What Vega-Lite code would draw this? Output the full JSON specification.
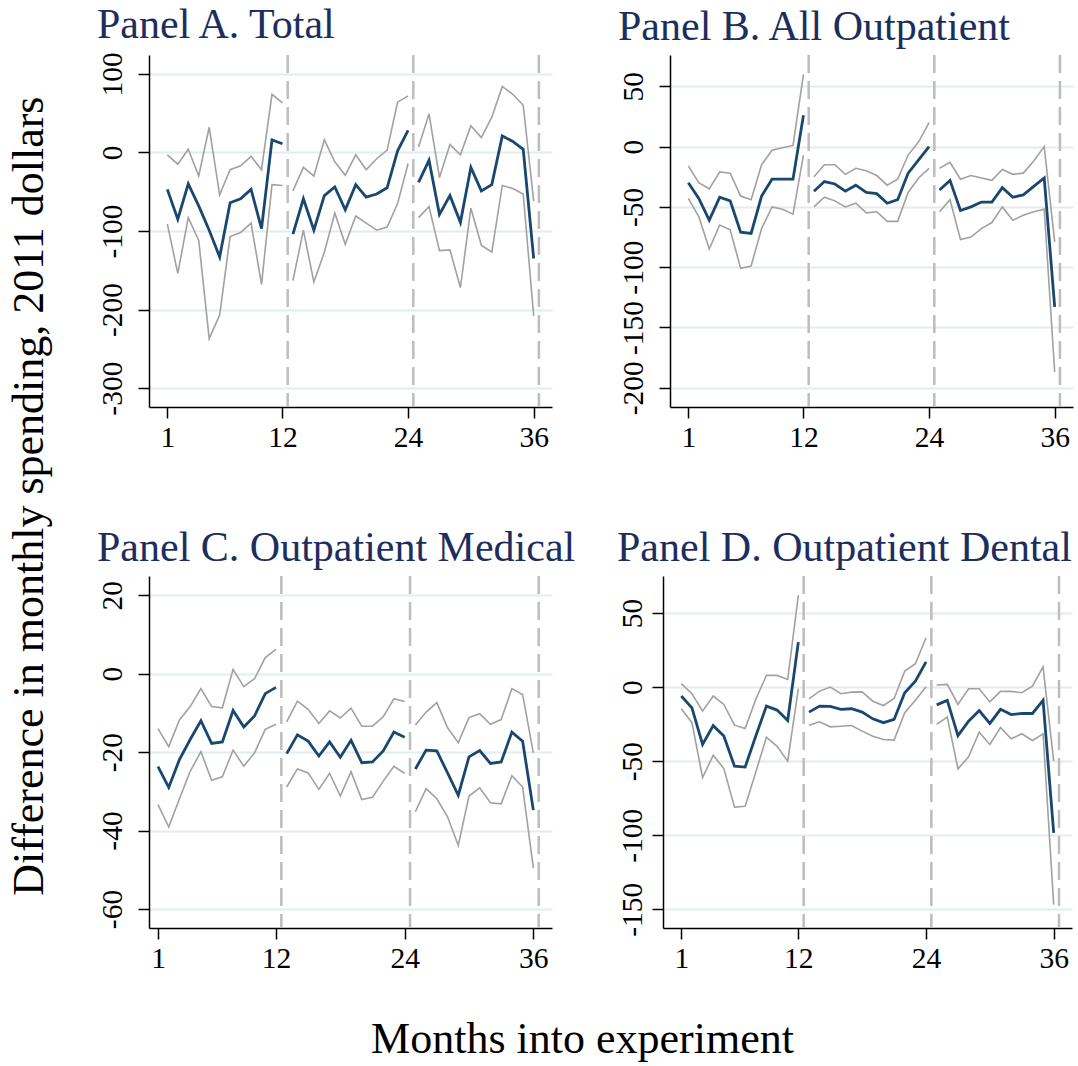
{
  "$schema": "https://vega.github.io/schema/vega-lite/v6.json",
  "background": "white",
  "padding": {"left": 7, "top": 3, "right": 2, "bottom": 2},
  "config": {
    "view": {"stroke": null},
    "font": "Liberation Serif",
    "axis": {
      "labelFont": "Liberation Serif", "labelFontSize": 29.5, "labelColor": "black",
      "domainColor": "black", "domainWidth": 1.5, "tickColor": "black", "tickWidth": 1.5,
      "tickSize": 11, "gridColor": "#e3ecee", "gridWidth": 2, "title": null
    },
    "axisX": {"labelPadding": 5, "grid": false},
    "axisY": {"labelAngle": -90, "labelAlign": "center", "labelBaseline": "alphabetic", "labelPadding": 17, "grid": true}
  },
  "datasets": {
    "v": [{"x": 12.5}, {"x": 24.5}, {"x": 36.5}],
    "d": [
      {"p":"A","m":1,"s":1,"e":-47,"h":-3,"l":-91},
      {"p":"A","m":2,"s":1,"e":-85,"h":-15,"l":-154},
      {"p":"A","m":3,"s":1,"e":-40,"h":4,"l":-83},
      {"p":"A","m":4,"s":1,"e":-68,"h":-30,"l":-112},
      {"p":"A","m":5,"s":1,"e":-99,"h":32,"l":-237},
      {"p":"A","m":6,"s":1,"e":-133,"h":-54,"l":-207},
      {"p":"A","m":7,"s":1,"e":-64,"h":-22,"l":-107},
      {"p":"A","m":8,"s":1,"e":-59,"h":-17,"l":-102},
      {"p":"A","m":9,"s":1,"e":-47,"h":-5,"l":-90},
      {"p":"A","m":10,"s":1,"e":-97,"h":-22,"l":-168},
      {"p":"A","m":11,"s":1,"e":16,"h":74,"l":-41},
      {"p":"A","m":12,"s":1,"e":11,"h":63,"l":-42},
      {"p":"A","m":13,"s":2,"e":-104,"h":-49,"l":-163},
      {"p":"A","m":14,"s":2,"e":-59,"h":-19,"l":-99},
      {"p":"A","m":15,"s":2,"e":-99,"h":-30,"l":-165},
      {"p":"A","m":16,"s":2,"e":-55,"h":16,"l":-127},
      {"p":"A","m":17,"s":2,"e":-44,"h":-12,"l":-77},
      {"p":"A","m":18,"s":2,"e":-73,"h":-29,"l":-117},
      {"p":"A","m":19,"s":2,"e":-41,"h":-3,"l":-81},
      {"p":"A","m":20,"s":2,"e":-57,"h":-22,"l":-90},
      {"p":"A","m":21,"s":2,"e":-53,"h":-8,"l":-99},
      {"p":"A","m":22,"s":2,"e":-45,"h":3,"l":-95},
      {"p":"A","m":23,"s":2,"e":2,"h":64,"l":-65},
      {"p":"A","m":24,"s":2,"e":28,"h":72,"l":-14},
      {"p":"A","m":25,"s":3,"e":-38,"h":7,"l":-83},
      {"p":"A","m":26,"s":3,"e":-10,"h":49,"l":-69},
      {"p":"A","m":27,"s":3,"e":-79,"h":-32,"l":-125},
      {"p":"A","m":28,"s":3,"e":-55,"h":10,"l":-124},
      {"p":"A","m":29,"s":3,"e":-89,"h":-3,"l":-172},
      {"p":"A","m":30,"s":3,"e":-19,"h":34,"l":-71},
      {"p":"A","m":31,"s":3,"e":-49,"h":19,"l":-118},
      {"p":"A","m":32,"s":3,"e":-41,"h":45,"l":-127},
      {"p":"A","m":33,"s":3,"e":21,"h":84,"l":-42},
      {"p":"A","m":34,"s":3,"e":14,"h":74,"l":-46},
      {"p":"A","m":35,"s":3,"e":4,"h":60,"l":-53},
      {"p":"A","m":36,"s":3,"e":-135,"h":-62,"l":-208},

      {"p":"B","m":1,"s":1,"e":-30,"h":-16,"l":-43},
      {"p":"B","m":2,"s":1,"e":-43,"h":-30,"l":-58},
      {"p":"B","m":3,"s":1,"e":-61,"h":-35,"l":-85},
      {"p":"B","m":4,"s":1,"e":-42,"h":-21,"l":-65},
      {"p":"B","m":5,"s":1,"e":-45,"h":-22,"l":-69},
      {"p":"B","m":6,"s":1,"e":-71,"h":-41,"l":-101},
      {"p":"B","m":7,"s":1,"e":-72,"h":-44,"l":-99},
      {"p":"B","m":8,"s":1,"e":-41,"h":-15,"l":-68},
      {"p":"B","m":9,"s":1,"e":-27,"h":-3,"l":-50},
      {"p":"B","m":10,"s":1,"e":-27,"h":-1,"l":-52},
      {"p":"B","m":11,"s":1,"e":-27,"h":1,"l":-56},
      {"p":"B","m":12,"s":1,"e":26,"h":60,"l":-7},
      {"p":"B","m":13,"s":2,"e":-37,"h":-25,"l":-50},
      {"p":"B","m":14,"s":2,"e":-29,"h":-15,"l":-42},
      {"p":"B","m":15,"s":2,"e":-31,"h":-15,"l":-45},
      {"p":"B","m":16,"s":2,"e":-37,"h":-23,"l":-50},
      {"p":"B","m":17,"s":2,"e":-32,"h":-18,"l":-47},
      {"p":"B","m":18,"s":2,"e":-38,"h":-20,"l":-55},
      {"p":"B","m":19,"s":2,"e":-39,"h":-24,"l":-54},
      {"p":"B","m":20,"s":2,"e":-47,"h":-32,"l":-62},
      {"p":"B","m":21,"s":2,"e":-44,"h":-27,"l":-62},
      {"p":"B","m":22,"s":2,"e":-22,"h":-7,"l":-38},
      {"p":"B","m":23,"s":2,"e":-11,"h":4,"l":-26},
      {"p":"B","m":24,"s":2,"e":0,"h":20,"l":-18},
      {"p":"B","m":25,"s":3,"e":-36,"h":-18,"l":-54},
      {"p":"B","m":26,"s":3,"e":-28,"h":-13,"l":-44},
      {"p":"B","m":27,"s":3,"e":-53,"h":-27,"l":-77},
      {"p":"B","m":28,"s":3,"e":-50,"h":-24,"l":-75},
      {"p":"B","m":29,"s":3,"e":-46,"h":-26,"l":-68},
      {"p":"B","m":30,"s":3,"e":-46,"h":-28,"l":-63},
      {"p":"B","m":31,"s":3,"e":-34,"h":-19,"l":-50},
      {"p":"B","m":32,"s":3,"e":-42,"h":-23,"l":-61},
      {"p":"B","m":33,"s":3,"e":-40,"h":-22,"l":-57},
      {"p":"B","m":34,"s":3,"e":-33,"h":-12,"l":-54},
      {"p":"B","m":35,"s":3,"e":-26,"h":0,"l":-52},
      {"p":"B","m":36,"s":3,"e":-133,"h":-79,"l":-187},

      {"p":"C","m":1,"s":1,"e":-23.7,"h":-14,"l":-33.4},
      {"p":"C","m":2,"s":1,"e":-29,"h":-18.6,"l":-39.1},
      {"p":"C","m":3,"s":1,"e":-21.9,"h":-11.8,"l":-31.9},
      {"p":"C","m":4,"s":1,"e":-16.8,"h":-8.4,"l":-24.9},
      {"p":"C","m":5,"s":1,"e":-12,"h":-3.8,"l":-19.9},
      {"p":"C","m":6,"s":1,"e":-17.8,"h":-8.4,"l":-27.2},
      {"p":"C","m":7,"s":1,"e":-17.4,"h":-8.7,"l":-26.3},
      {"p":"C","m":8,"s":1,"e":-9.4,"h":1.1,"l":-19.5},
      {"p":"C","m":9,"s":1,"e":-13.6,"h":-3.3,"l":-23.6},
      {"p":"C","m":10,"s":1,"e":-10.8,"h":-1.3,"l":-20.2},
      {"p":"C","m":11,"s":1,"e":-5.1,"h":4.1,"l":-14.2},
      {"p":"C","m":12,"s":1,"e":-3.5,"h":6.2,"l":-12.9},
      {"p":"C","m":13,"s":2,"e":-20.4,"h":-12.3,"l":-28.9},
      {"p":"C","m":14,"s":2,"e":-15.6,"h":-7,"l":-24.3},
      {"p":"C","m":15,"s":2,"e":-17.2,"h":-9.1,"l":-25.3},
      {"p":"C","m":16,"s":2,"e":-21,"h":-12.7,"l":-29.5},
      {"p":"C","m":17,"s":2,"e":-17.4,"h":-9.5,"l":-25.4},
      {"p":"C","m":18,"s":2,"e":-21.3,"h":-11.3,"l":-31.2},
      {"p":"C","m":19,"s":2,"e":-17,"h":-8.8,"l":-25},
      {"p":"C","m":20,"s":2,"e":-22.7,"h":-13.4,"l":-32.1},
      {"p":"C","m":21,"s":2,"e":-22.5,"h":-13.4,"l":-31.5},
      {"p":"C","m":22,"s":2,"e":-19.7,"h":-11,"l":-27.4},
      {"p":"C","m":23,"s":2,"e":-14.9,"h":-6.4,"l":-23.6},
      {"p":"C","m":24,"s":2,"e":-16.2,"h":-7.1,"l":-25.4},
      {"p":"C","m":25,"s":3,"e":-24.3,"h":-13.1,"l":-35.2},
      {"p":"C","m":26,"s":3,"e":-19.5,"h":-9.8,"l":-29.3},
      {"p":"C","m":27,"s":3,"e":-19.7,"h":-7.4,"l":-31.9},
      {"p":"C","m":28,"s":3,"e":-25.3,"h":-13.8,"l":-36.5},
      {"p":"C","m":29,"s":3,"e":-31,"h":-17.6,"l":-43.8},
      {"p":"C","m":30,"s":3,"e":-21.2,"h":-11.2,"l":-31.2},
      {"p":"C","m":31,"s":3,"e":-19.6,"h":-10.2,"l":-29.1},
      {"p":"C","m":32,"s":3,"e":-22.9,"h":-12.9,"l":-32.9},
      {"p":"C","m":33,"s":3,"e":-22.5,"h":-11.7,"l":-33.2},
      {"p":"C","m":34,"s":3,"e":-14.9,"h":-3.8,"l":-26},
      {"p":"C","m":35,"s":3,"e":-17.2,"h":-5.3,"l":-28.9},
      {"p":"C","m":36,"s":3,"e":-34.8,"h":-20.2,"l":-49.5},

      {"p":"D","m":1,"s":1,"e":-6,"h":2.3,"l":-14.6},
      {"p":"D","m":2,"s":1,"e":-14,"h":-4.5,"l":-24},
      {"p":"D","m":3,"s":1,"e":-38.7,"h":-16.2,"l":-61},
      {"p":"D","m":4,"s":1,"e":-26,"h":-6,"l":-46},
      {"p":"D","m":5,"s":1,"e":-33,"h":-11.7,"l":-55},
      {"p":"D","m":6,"s":1,"e":-53.4,"h":-25.7,"l":-81},
      {"p":"D","m":7,"s":1,"e":-54,"h":-28,"l":-80.4},
      {"p":"D","m":8,"s":1,"e":-33,"h":-8.3,"l":-57.4},
      {"p":"D","m":9,"s":1,"e":-12.8,"h":7.9,"l":-33.8},
      {"p":"D","m":10,"s":1,"e":-15.5,"h":7.9,"l":-40},
      {"p":"D","m":11,"s":1,"e":-22.5,"h":5.2,"l":-50},
      {"p":"D","m":12,"s":1,"e":30.4,"h":62,"l":-1.1},
      {"p":"D","m":13,"s":2,"e":-16.9,"h":-7.9,"l":-25.7},
      {"p":"D","m":14,"s":2,"e":-12.8,"h":-2.7,"l":-23.4},
      {"p":"D","m":15,"s":2,"e":-13,"h":0,"l":-26.8},
      {"p":"D","m":16,"s":2,"e":-15,"h":-4.5,"l":-26.4},
      {"p":"D","m":17,"s":2,"e":-14.6,"h":-3.4,"l":-25.9},
      {"p":"D","m":18,"s":2,"e":-16.9,"h":-3.2,"l":-29.7},
      {"p":"D","m":19,"s":2,"e":-21.4,"h":-9.5,"l":-33.1},
      {"p":"D","m":20,"s":2,"e":-24,"h":-12.4,"l":-35.4},
      {"p":"D","m":21,"s":2,"e":-21.8,"h":-7.7,"l":-35.8},
      {"p":"D","m":22,"s":2,"e":-3.8,"h":10.8,"l":-17.3},
      {"p":"D","m":23,"s":2,"e":4,"h":15.8,"l":-8.8},
      {"p":"D","m":24,"s":2,"e":17,"h":33.3,"l":0.2},
      {"p":"D","m":25,"s":3,"e":-12,"h":1.4,"l":-25.2},
      {"p":"D","m":26,"s":3,"e":-9,"h":1.8,"l":-20.3},
      {"p":"D","m":27,"s":3,"e":-32.7,"h":-11.7,"l":-55.2},
      {"p":"D","m":28,"s":3,"e":-23,"h":-1.1,"l":-47},
      {"p":"D","m":29,"s":3,"e":-15.8,"h":-1.1,"l":-30.4},
      {"p":"D","m":30,"s":3,"e":-24.5,"h":-10,"l":-38.7},
      {"p":"D","m":31,"s":3,"e":-15,"h":-2.9,"l":-27.3},
      {"p":"D","m":32,"s":3,"e":-18.5,"h":-2.9,"l":-34.9},
      {"p":"D","m":33,"s":3,"e":-17.8,"h":-3.8,"l":-31.5},
      {"p":"D","m":34,"s":3,"e":-17.8,"h":0.7,"l":-36},
      {"p":"D","m":35,"s":3,"e":-9,"h":13.7,"l":-31.5},
      {"p":"D","m":36,"s":3,"e":-98.4,"h":-50,"l":-146.8}
    ]
  },
  "title": {"text": "Months into experiment", "orient": "bottom", "anchor": "middle", "fontSize": 44, "font": "Liberation Serif", "fontWeight": "normal", "color": "black", "offset": 45, "dx": 42},
  "vconcat": [
    {
      "title": {"text": "Difference in monthly spending, 2011 dollars", "orient": "left", "anchor": "middle", "fontSize": 44, "font": "Liberation Serif", "fontWeight": "normal", "color": "black", "offset": 45, "dx": -8},
      "spacing": 74,
      "vconcat": [
        {
          "spacing": 66,
          "hconcat": [
            {
              "title": {"text": "Panel A. Total", "anchor": "start", "frame": "bounds", "fontSize": 42, "font": "Liberation Serif", "fontWeight": "normal", "color": "#1c2e5e", "offset": 5},
              "width": 403, "height": 352,
              "layer": [
                {"data": {"name": "v"}, "mark": {"type": "rule", "color": "#bdbdbd", "strokeWidth": 2.5, "strokeDash": [18, 8]},
                 "encoding": {"x": {"field": "x", "type": "quantitative", "scale": {"domain": [-0.75, 37.75], "nice": false, "zero": false}, "axis": {"values": [1, 12, 24, 36]}}}},
                {"data": {"name": "d"}, "transform": [{"filter": "datum.p == 'A'"}], "mark": {"type": "line", "color": "#a1a1a1", "strokeWidth": 1.6},
                 "encoding": {"x": {"field": "m", "type": "quantitative"}, "y": {"field": "h", "type": "quantitative", "scale": {"domain": [-324, 124], "nice": false, "zero": false}, "axis": {"values": [-300, -200, -100, 0, 100], "labelExpr": "replace(datum.label, '−', '-')"}}, "detail": {"field": "s"}}},
                {"data": {"name": "d"}, "transform": [{"filter": "datum.p == 'A'"}], "mark": {"type": "line", "color": "#a1a1a1", "strokeWidth": 1.6},
                 "encoding": {"x": {"field": "m", "type": "quantitative"}, "y": {"field": "l", "type": "quantitative"}, "detail": {"field": "s"}}},
                {"data": {"name": "d"}, "transform": [{"filter": "datum.p == 'A'"}], "mark": {"type": "line", "color": "#1a476f", "strokeWidth": 2.8},
                 "encoding": {"x": {"field": "m", "type": "quantitative"}, "y": {"field": "e", "type": "quantitative"}, "detail": {"field": "s"}}}
              ]
            },
            {
              "title": {"text": "Panel B. All Outpatient", "anchor": "start", "frame": "bounds", "fontSize": 42, "font": "Liberation Serif", "fontWeight": "normal", "color": "#1c2e5e", "offset": 5},
              "width": 403, "height": 352,
              "layer": [
                {"data": {"name": "v"}, "mark": {"type": "rule", "color": "#bdbdbd", "strokeWidth": 2.5, "strokeDash": [18, 8]},
                 "encoding": {"x": {"field": "x", "type": "quantitative", "scale": {"domain": [-0.75, 37.75], "nice": false, "zero": false}, "axis": {"values": [1, 12, 24, 36]}}}},
                {"data": {"name": "d"}, "transform": [{"filter": "datum.p == 'B'"}], "mark": {"type": "line", "color": "#a1a1a1", "strokeWidth": 1.6},
                 "encoding": {"x": {"field": "m", "type": "quantitative"}, "y": {"field": "h", "type": "quantitative", "scale": {"domain": [-216, 76], "nice": false, "zero": false}, "axis": {"values": [-200, -150, -100, -50, 0, 50], "labelExpr": "replace(datum.label, '−', '-')"}}, "detail": {"field": "s"}}},
                {"data": {"name": "d"}, "transform": [{"filter": "datum.p == 'B'"}], "mark": {"type": "line", "color": "#a1a1a1", "strokeWidth": 1.6},
                 "encoding": {"x": {"field": "m", "type": "quantitative"}, "y": {"field": "l", "type": "quantitative"}, "detail": {"field": "s"}}},
                {"data": {"name": "d"}, "transform": [{"filter": "datum.p == 'B'"}], "mark": {"type": "line", "color": "#1a476f", "strokeWidth": 2.8},
                 "encoding": {"x": {"field": "m", "type": "quantitative"}, "y": {"field": "e", "type": "quantitative"}, "detail": {"field": "s"}}}
              ]
            }
          ]
        },
        {
          "spacing": 41,
          "hconcat": [
            {
              "title": {"text": "Panel C. Outpatient Medical", "anchor": "start", "frame": "bounds", "fontSize": 42, "font": "Liberation Serif", "fontWeight": "normal", "color": "#1c2e5e", "offset": 5},
              "width": 403, "height": 352,
              "layer": [
                {"data": {"name": "v"}, "mark": {"type": "rule", "color": "#bdbdbd", "strokeWidth": 2.5, "strokeDash": [18, 8]},
                 "encoding": {"x": {"field": "x", "type": "quantitative", "scale": {"domain": [0.16, 37.74], "nice": false, "zero": false}, "axis": {"values": [1, 12, 24, 36]}}}},
                {"data": {"name": "d"}, "transform": [{"filter": "datum.p == 'C'"}], "mark": {"type": "line", "color": "#a1a1a1", "strokeWidth": 1.6},
                 "encoding": {"x": {"field": "m", "type": "quantitative"}, "y": {"field": "h", "type": "quantitative", "scale": {"domain": [-64.85, 24.9], "nice": false, "zero": false}, "axis": {"values": [-60, -40, -20, 0, 20], "labelExpr": "replace(datum.label, '−', '-')"}}, "detail": {"field": "s"}}},
                {"data": {"name": "d"}, "transform": [{"filter": "datum.p == 'C'"}], "mark": {"type": "line", "color": "#a1a1a1", "strokeWidth": 1.6},
                 "encoding": {"x": {"field": "m", "type": "quantitative"}, "y": {"field": "l", "type": "quantitative"}, "detail": {"field": "s"}}},
                {"data": {"name": "d"}, "transform": [{"filter": "datum.p == 'C'"}], "mark": {"type": "line", "color": "#1a476f", "strokeWidth": 2.8},
                 "encoding": {"x": {"field": "m", "type": "quantitative"}, "y": {"field": "e", "type": "quantitative"}, "detail": {"field": "s"}}}
              ]
            },
            {
              "title": {"text": "Panel D. Outpatient Dental", "anchor": "start", "frame": "bounds", "fontSize": 42, "font": "Liberation Serif", "fontWeight": "normal", "color": "#1c2e5e", "offset": 5},
              "width": 409, "height": 352,
              "layer": [
                {"data": {"name": "v"}, "mark": {"type": "rule", "color": "#bdbdbd", "strokeWidth": 2.5, "strokeDash": [18, 8]},
                 "encoding": {"x": {"field": "x", "type": "quantitative", "scale": {"domain": [-0.72, 37.72], "nice": false, "zero": false}, "axis": {"values": [1, 12, 24, 36]}}}},
                {"data": {"name": "d"}, "transform": [{"filter": "datum.p == 'D'"}], "mark": {"type": "line", "color": "#a1a1a1", "strokeWidth": 1.6},
                 "encoding": {"x": {"field": "m", "type": "quantitative"}, "y": {"field": "h", "type": "quantitative", "scale": {"domain": [-162.6, 75], "nice": false, "zero": false}, "axis": {"values": [-150, -100, -50, 0, 50], "labelPadding": 11, "labelExpr": "replace(datum.label, '−', '-')"}}, "detail": {"field": "s"}}},
                {"data": {"name": "d"}, "transform": [{"filter": "datum.p == 'D'"}], "mark": {"type": "line", "color": "#a1a1a1", "strokeWidth": 1.6},
                 "encoding": {"x": {"field": "m", "type": "quantitative"}, "y": {"field": "l", "type": "quantitative"}, "detail": {"field": "s"}}},
                {"data": {"name": "d"}, "transform": [{"filter": "datum.p == 'D'"}], "mark": {"type": "line", "color": "#1a476f", "strokeWidth": 2.8},
                 "encoding": {"x": {"field": "m", "type": "quantitative"}, "y": {"field": "e", "type": "quantitative"}, "detail": {"field": "s"}}}
              ]
            }
          ]
        }
      ]
    }
  ]
}
